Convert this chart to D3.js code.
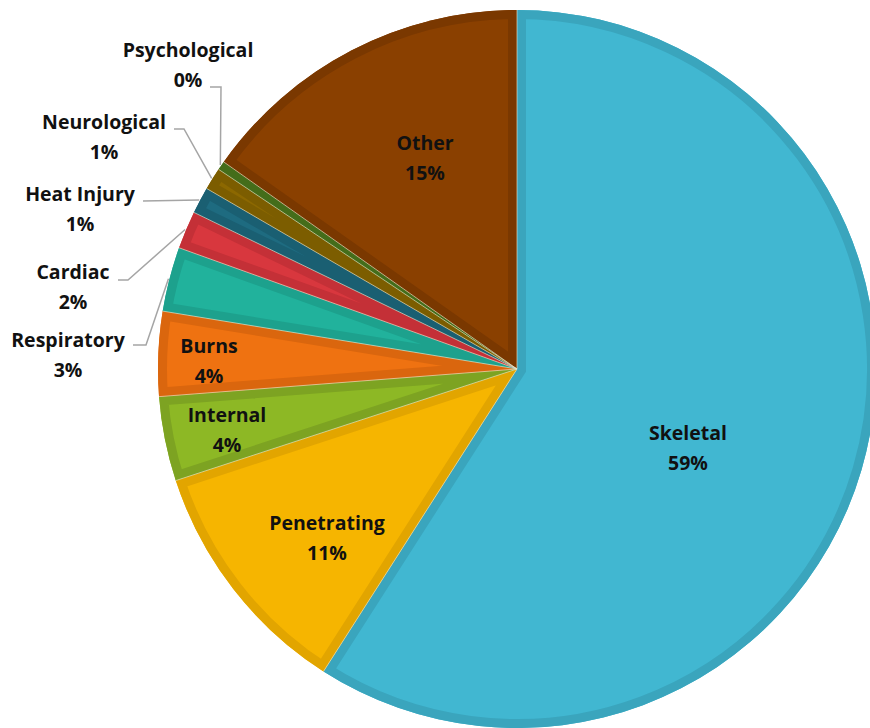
<!DOCTYPE html>
<html>
<head>
<meta charset="utf-8">
<script src="https://cdn.jsdelivr.net/npm/d3@7"></script>
<style>
  body { margin: 0; background: #fff; }
  svg { display: block; }
  .lbl { font-family: "Open Sans", sans-serif; font-weight: 700; font-size: 19.5px; fill: #111; }
</style>
</head>
<body>
<div id="chart"></div>
<script>
// slice data, clockwise from 12 o'clock
var categories = ["Skeletal", "Penetrating", "Internal", "Burns", "Respiratory", "Cardiac",
                  "Heat Injury", "Neurological", "Psychological", "Other"];
var values = [59.0, 10.9, 3.8, 3.8, 2.9, 1.7, 1.2, 1.0, 0.4, 15.2];
var fills = ["#41b7d1", "#f6b500", "#8db825", "#ef7211", "#21b29c", "#d8373e",
             "#1e6b80", "#8c6800", "#4d7b1e", "#8a4000"];
var edges = ["#3aa5bd", "#e2a500", "#7da322", "#da660e", "#1da18d", "#c43037",
             "#1a5f72", "#7c5d00", "#446d1a", "#7a3800"];

// label layout: [x, y] of the label block, inside = no leader line
var labelPos = [[688, 433], [327, 523], [227, 415], [209, 346], [68, 340],
                [73, 272], [80, 194], [104, 122], [188, 50], [425, 143]];
var leaderStart = [null, null, null, null, [133, 345], [118, 280], [143, 201], [174, 129], [210, 87], null];
var leaderElbow = [null, null, null, null, [146, 345], [128, 280], null, [184, 129], [221, 87], null];

var width = 870, height = 728;
var cx = 517, cy = 369, radius = 359;
var bw = 9; // darker inner rim

var svg = d3.select("#chart").append("svg")
    .attr("width", width).attr("height", height);

var total = d3.sum(values);
var data = categories.map(function (c, i) {
  return { name: c, value: values[i], fill: fills[i], edge: edges[i], i: i };
});

var pie = d3.pie().sort(null).value(function (d) { return d.value; });
var arcs = pie(data);
var arc = d3.arc().innerRadius(0).outerRadius(radius);

var g = svg.append("g").attr("transform", "translate(" + cx + "," + cy + ")");
var defs = svg.append("defs");

defs.selectAll("clipPath").data(arcs).enter().append("clipPath")
    .attr("id", function (d) { return "clip" + d.data.i; })
  .append("path")
    .attr("d", arc);

var slices = g.selectAll("g.slice").data(arcs).enter().append("g").attr("class", "slice");

slices.append("path")
    .attr("d", arc)
    .attr("fill", function (d) { return d.data.fill; });

// darker rim, clipped to the slice so it sits inside
slices.append("path")
    .attr("d", arc)
    .attr("fill", "none")
    .attr("stroke", function (d) { return d.data.edge; })
    .attr("stroke-width", bw * 2)
    .attr("stroke-linejoin", "miter")
    .attr("clip-path", function (d) { return "url(#clip" + d.data.i + ")"; });

// thin light separators
g.selectAll("line.sep").data(arcs).enter().append("line")
    .attr("class", "sep")
    .attr("x1", 0).attr("y1", 0)
    .attr("x2", function (d) { return radius * Math.sin(d.startAngle); })
    .attr("y2", function (d) { return -radius * Math.cos(d.startAngle); })
    .attr("stroke", "#e8e3c8")
    .attr("stroke-width", 0.8)
    .attr("stroke-opacity", 0.8);

// leader lines for the small slices
arcs.forEach(function (d, i) {
  if (!leaderStart[i]) return;
  var mid = (d.startAngle + d.endAngle) / 2;
  var ex = cx + (radius + 1) * Math.sin(mid),
      ey = cy - (radius + 1) * Math.cos(mid);
  var pts = [leaderStart[i]];
  if (leaderElbow[i]) pts.push(leaderElbow[i]);
  pts.push([ex, ey]);
  svg.append("path")
      .attr("d", d3.line()(pts))
      .attr("fill", "none")
      .attr("stroke", "#a5a5a5")
      .attr("stroke-width", 1.5);
});

// labels
var fmt = function (v) { return Math.round(v / total * 100) + "%"; };
arcs.forEach(function (d, i) {
  var p = labelPos[i];
  var t = svg.append("text").attr("class", "lbl")
      .attr("text-anchor", "middle")
      .attr("x", p[0]).attr("y", p[1]);
  t.append("tspan").attr("x", p[0]).attr("dy", "0.35em").text(d.data.name);
  t.append("tspan").attr("x", p[0]).attr("dy", 30).text(fmt(d.data.value));
});
</script>
</body>
</html>
